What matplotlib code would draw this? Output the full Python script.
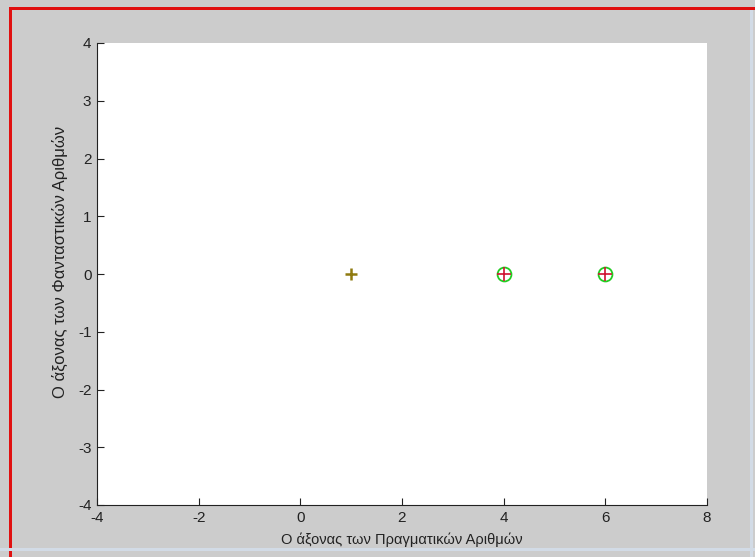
import numpy as np
import matplotlib
matplotlib.use('Agg')
import matplotlib.pyplot as plt
from matplotlib.patches import Rectangle

# points on the complex plane
yellow_re = [1]
yellow_im = [0]
circle_re = [4, 6]
circle_im = [0, 0]
plus_re = [4, 6]
plus_im = [0, 0]

xticks = [-4, -2, 0, 2, 4, 6, 8]
yticks = [-4, -3, -2, -1, 0, 1, 2, 3, 4]

plt.rcParams['font.family'] = ['Liberation Sans', 'DejaVu Sans']
plt.rcParams['axes.unicode_minus'] = False

fig = plt.figure(figsize=(7.55, 5.57), dpi=100, facecolor='#cccccc')

# screenshot frame
fig.patches.append(Rectangle((9/755, 0), 3/755, 550/557, transform=fig.transFigure,
                             facecolor='#e01010', edgecolor='none'))
fig.patches.append(Rectangle((9/755, 547/557), 746/755, 3/557, transform=fig.transFigure,
                             facecolor='#e01010', edgecolor='none'))
fig.patches.append(Rectangle((0, 6/557), 755/755, 3/557, transform=fig.transFigure,
                             facecolor='#d2dbe6', edgecolor='none'))
fig.patches.append(Rectangle((750/755, 0), 3/755, 547/557, transform=fig.transFigure,
                             facecolor='#d2dbe6', edgecolor='none'))

ax = fig.add_axes([97/755, 52/557, 610/755, 462/557])
ax.set_facecolor('white')

ax.plot(circle_re, circle_im, 'o', markersize=10, markerfacecolor='none',
        markeredgecolor='#22cc22', markeredgewidth=1.3)
ax.plot(plus_re, plus_im, '+', markersize=10, color='#d01030', markeredgewidth=1.2)
ax.plot(yellow_re, yellow_im, '+', markersize=8, color='#8f7a10', markeredgewidth=1.8)

ax.set_xlim(-4, 8)
ax.set_ylim(-4, 4)
ax.set_xticks(xticks)
ax.set_yticks(yticks)
ax.tick_params(direction='in', length=5, labelsize=11, colors='#222222', pad=4)
ax.spines['top'].set_visible(False)
ax.spines['right'].set_visible(False)
ax.spines['left'].set_color('#222222')
ax.spines['bottom'].set_color('#222222')

ax.set_xlabel('Ο άξονας των Πραγματικών Αριθμών', fontsize=10.5, color='#222222', labelpad=6)
ax.set_ylabel('Ο άξονας των Φανταστικών Αριθμών', fontsize=12, color='#222222')
ax.yaxis.set_label_coords(-0.047, 0.526)

fig.savefig('out.png', dpi=100, facecolor=fig.get_facecolor())
